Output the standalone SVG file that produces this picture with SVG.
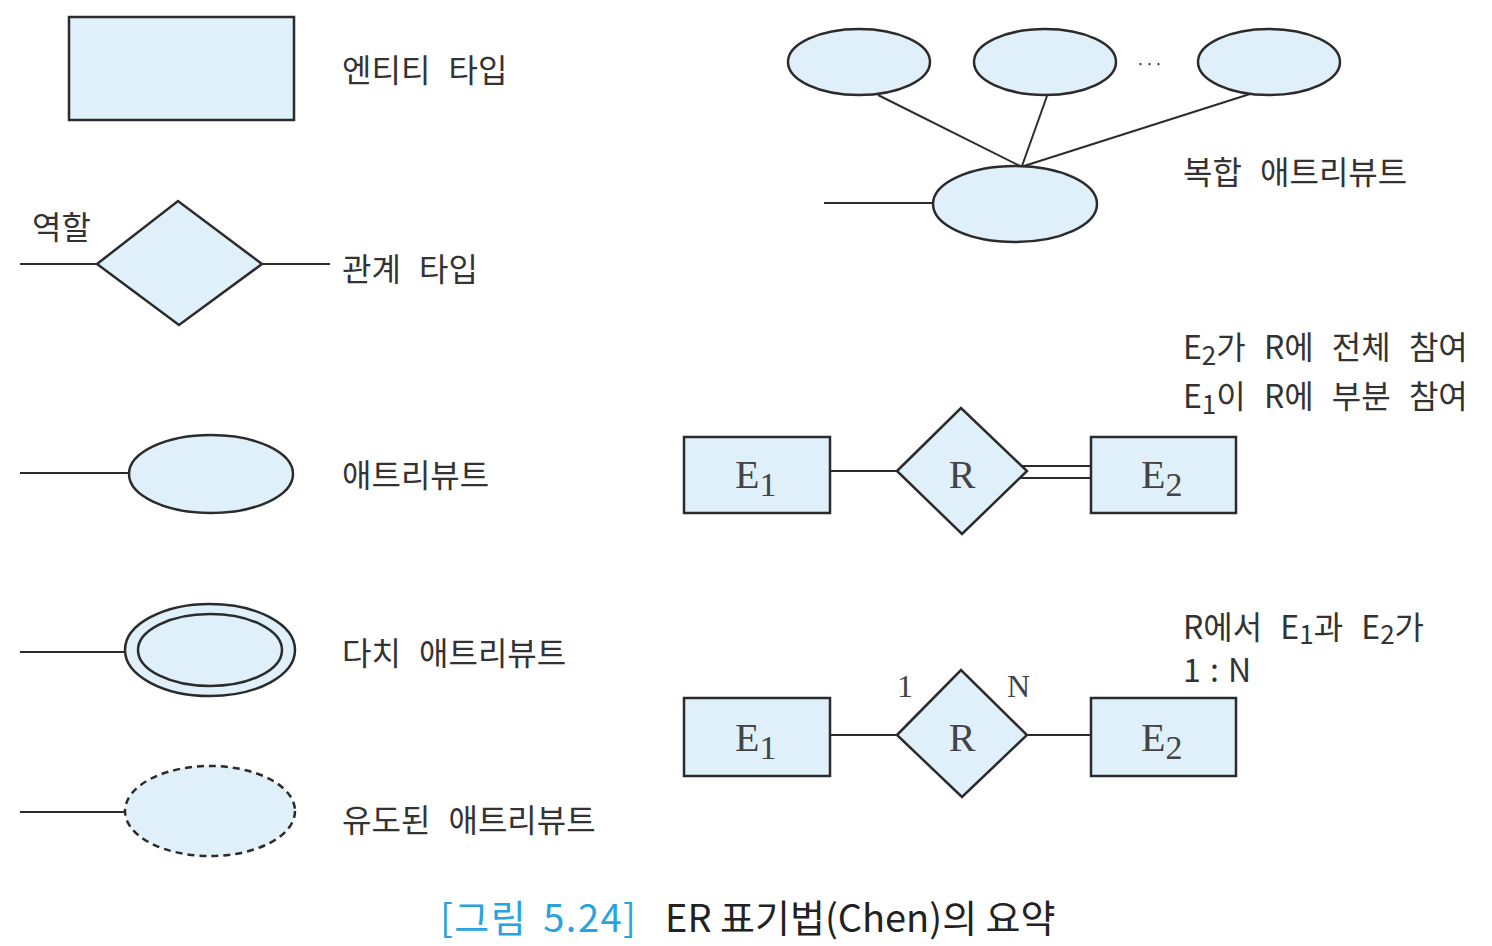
<svg xmlns="http://www.w3.org/2000/svg" width="1492" height="946" viewBox="0 0 1492 946">
<style>
.s{fill:#dff0fa;stroke:#2b2b2b;stroke-width:2.5}
.d{fill:#dff0fa;stroke:#2b2b2b;stroke-width:2.5;stroke-dasharray:7 5}
.ln{stroke:#2b2b2b;stroke-width:2;fill:none}
.t{font-family:"Noto Sans CJK KR","Liberation Sans",sans-serif;font-size:32px;fill:#333;word-spacing:11px}
.e{font-family:"Liberation Serif","DejaVu Serif",serif;font-size:40px;fill:#444}
.n{font-family:"Liberation Serif","DejaVu Serif",serif;font-size:32px;fill:#444}
.cap{font-family:"Noto Sans CJK KR","Liberation Sans",sans-serif;font-size:38px}
</style>
<rect width="1492" height="946" fill="#fff"/>
<g id="connectors">
<line class="ln" x1="20" y1="264" x2="97" y2="264"/>
<line class="ln" x1="262" y1="264" x2="330" y2="264"/>
<line class="ln" x1="20" y1="473" x2="129" y2="473"/>
<line class="ln" x1="20" y1="652" x2="125" y2="652"/>
<line class="ln" x1="20" y1="812" x2="125" y2="812"/>
<line class="ln" x1="824" y1="203" x2="933" y2="203"/>
<line class="ln" x1="878" y1="95" x2="1020" y2="166" stroke-width="1.8"/>
<line class="ln" x1="1047" y1="96" x2="1022" y2="166" stroke-width="1.8"/>
<line class="ln" x1="1250" y1="94" x2="1024" y2="166" stroke-width="1.8"/>
<line class="ln" x1="830" y1="471" x2="897" y2="471"/>
<line class="ln" x1="1020" y1="466" x2="1091" y2="466"/>
<line class="ln" x1="1020" y1="478" x2="1091" y2="478"/>
<line class="ln" x1="830" y1="735" x2="897" y2="735"/>
<line class="ln" x1="1027" y1="735" x2="1091" y2="735"/>
</g>
<g id="entity-legend"><rect class="s" x="69" y="17" width="225" height="103"/><text class="t" x="342" y="82">엔티티 타입</text></g>
<g id="relationship-legend"><polygon class="s" points="97,264 178,201 262,264 179,325"/><text class="t" x="32" y="239">역할</text><text class="t" x="342" y="281">관계 타입</text></g>
<g id="attribute-legend"><ellipse class="s" cx="211" cy="474" rx="82" ry="39"/><text class="t" x="342" y="487">애트리뷰트</text></g>
<g id="multivalued-legend"><ellipse class="s" cx="210" cy="650" rx="85" ry="46"/><ellipse class="s" cx="210" cy="650" rx="72" ry="36"/><text class="t" x="342" y="665">다치 애트리뷰트</text></g>
<g id="derived-legend"><ellipse class="d" cx="210" cy="811" rx="85" ry="45"/><text class="t" x="342" y="832">유도된 애트리뷰트</text></g>
<g id="composite-legend">
<ellipse class="s" cx="859" cy="62" rx="71" ry="33"/>
<ellipse class="s" cx="1045" cy="62" rx="71" ry="33"/>
<ellipse class="s" cx="1269" cy="62" rx="71" ry="33"/>
<text class="t" x="1136" y="70" style="font-size:16px;letter-spacing:0px">···</text>
<ellipse class="s" cx="1015" cy="204" rx="82" ry="38"/>
<text class="t" x="1183" y="184">복합 애트리뷰트</text>
</g>
<g id="participation">
<rect class="s" x="684" y="437" width="146" height="76"/>
<text class="e" x="735" y="488">E<tspan font-size="34" dy="8">1</tspan></text>
<polygon class="s" points="897,471 961,408 1027,471 962,534"/>
<text class="e" x="962" y="488" text-anchor="middle">R</text>
<rect class="s" x="1091" y="437" width="145" height="76"/>
<text class="e" x="1141" y="488">E<tspan font-size="34" dy="8">2</tspan></text>
<text class="t" x="1183" y="359">E<tspan font-size="26" dy="6">2</tspan><tspan dy="-6">가 R에 전체 참여</tspan></text>
<text class="t" x="1183" y="408">E<tspan font-size="26" dy="6">1</tspan><tspan dy="-6">이 R에 부분 참여</tspan></text>
</g>
<g id="cardinality">
<rect class="s" x="684" y="698" width="146" height="78"/>
<text class="e" x="735" y="751">E<tspan font-size="34" dy="8">1</tspan></text>
<polygon class="s" points="897,735 961,670 1027,735 962,797"/>
<text class="e" x="962" y="751" text-anchor="middle">R</text>
<rect class="s" x="1091" y="698" width="145" height="78"/>
<text class="e" x="1141" y="751">E<tspan font-size="34" dy="8">2</tspan></text>
<text class="n" x="897" y="697">1</text>
<text class="n" x="1007" y="697">N</text>
<text class="t" x="1183" y="639">R에서 E<tspan font-size="26" dy="5">1</tspan><tspan dy="-5">과 E</tspan><tspan font-size="26" dy="5">2</tspan><tspan dy="-5">가</tspan></text>
<text class="t" x="1183" y="682" style="word-spacing:2px">1 : N</text>
</g>
<g id="caption">
<text class="cap" x="440" y="932" fill="#29a3e0" style="letter-spacing:1.5px;word-spacing:6px">[그림 5.24]</text>
<text class="cap" x="665" y="932" fill="#222">ER 표기법(Chen)의 요약</text>
</g>
</svg>
